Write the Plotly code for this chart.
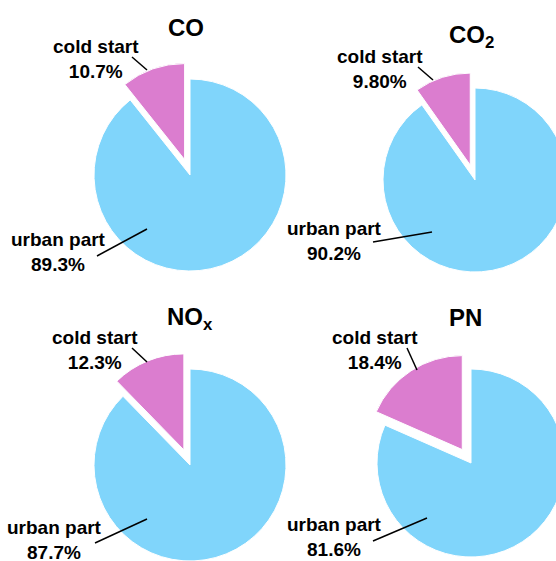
import plotly.graph_objects as go

# ---- data ----
pollutants = ["CO", "CO<sub>2</sub>", "NO<sub>x</sub>", "PN"]
slice_names = ["urban part", "cold start"]
urban_part = [89.3, 90.2, 87.7, 81.6]
cold_start = [10.7, 9.80, 12.3, 18.4]
cold_labels = ["10.7%", "9.80%", "12.3%", "18.4%"]
urban_labels = ["89.3%", "90.2%", "87.7%", "81.6%"]

# ---- layout (pixels in a 600x600 canvas, viewport shows top-left 556x561) ----
W, H = 600, 600
PULL = 0.17
centers = [(190, 175), (475, 180), (190, 465), (471, 463)]
radii = [96, 92, 96, 94]
title_pos = [(186, 27), (471, 37), (190, 318), (465, 317)]
cold_text_pos = [(96, 59), (380, 69), (95, 350), (375, 350)]
urban_text_pos = [(58, 252), (334, 241), (54, 540), (334, 537)]
cold_lines = [((132, 57), (147, 70)), ((418, 67), (433, 80)),
              ((132, 348), (147, 362)), ((407, 348), (417, 370))]
urban_lines = [((97, 256), (147, 229)), ((373, 242), (432, 232)),
               ((95, 543), (147, 519)), ((373, 541), (427, 518))]

BLUE = "#80D5FB"
PINK = "#DB7DCF"
FONT = "Liberation Sans, Arial, sans-serif"


def px(x):
    return x / W


def py(y):
    return 1 - y / H


fig = go.Figure()
for i in range(4):
    cx, cy = centers[i]
    half = radii[i] * (1 + PULL)
    fig.add_trace(go.Pie(
        labels=slice_names,
        values=[urban_part[i], cold_start[i]],
        sort=False,
        direction="clockwise",
        rotation=0,
        pull=[0, PULL],
        marker=dict(colors=[BLUE, PINK], line=dict(color="white", width=1)),
        textinfo="none",
        hoverinfo="label+percent",
        showlegend=False,
        domain=dict(x=[px(cx - half), px(cx + half)],
                    y=[py(cy + half), py(cy - half)]),
    ))

annotations = []
shapes = []
for i in range(4):
    tx, ty = title_pos[i]
    annotations.append(dict(text=f"<b>{pollutants[i]}</b>", x=px(tx), y=py(ty),
                            xref="paper", yref="paper", showarrow=False,
                            xanchor="center", yanchor="middle",
                            font=dict(size=24, color="black", family=FONT)))
    cx, cy = cold_text_pos[i]
    annotations.append(dict(text=f"<b>{slice_names[1]}<br>{cold_labels[i]}</b>",
                            x=px(cx), y=py(cy), xref="paper", yref="paper",
                            showarrow=False, xanchor="center", yanchor="middle",
                            font=dict(size=19, color="black", family=FONT)))
    ux, uy = urban_text_pos[i]
    annotations.append(dict(text=f"<b>{slice_names[0]}<br>{urban_labels[i]}</b>",
                            x=px(ux), y=py(uy), xref="paper", yref="paper",
                            showarrow=False, xanchor="center", yanchor="middle",
                            font=dict(size=19, color="black", family=FONT)))
    for (a, b) in (cold_lines[i], urban_lines[i]):
        shapes.append(dict(type="line", xref="paper", yref="paper",
                           x0=px(a[0]), y0=py(a[1]), x1=px(b[0]), y1=py(b[1]),
                           line=dict(color="black", width=1.5)))

fig.update_layout(
    width=W, height=H,
    margin=dict(l=0, r=0, t=0, b=0),
    paper_bgcolor="white", plot_bgcolor="white",
    annotations=annotations, shapes=shapes,
    font=dict(family=FONT),
)

fig.write_html("out.html",
               config={"displayModeBar": False},
               post_script="document.body.style.margin='0';"
                           "document.body.style.overflow='hidden';"
                           "document.documentElement.style.overflow='hidden';")
